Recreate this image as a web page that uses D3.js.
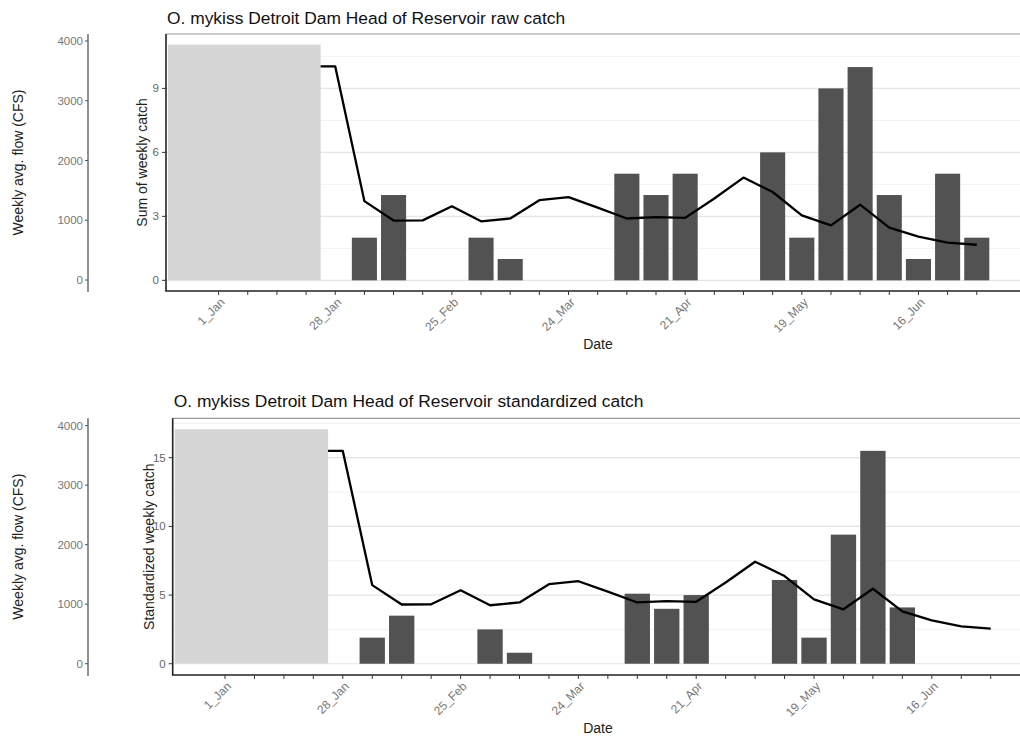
<!DOCTYPE html>
<html>
<head>
<meta charset="utf-8">
<script src="https://cdn.jsdelivr.net/npm/d3@7.9.0/dist/d3.min.js"></script>
<style>
  body { margin: 0; background: #fff; }
  svg { display: block; font-family: "Liberation Sans", Arial, sans-serif; }
</style>
</head>
<body>
<svg id="chart" width="1020" height="738"></svg>
<script>
// --- DATA ---
// weeks are numbered from 0 (1_Jan); a label every 4 weeks
const dateLabels = ["1_Jan", "28_Jan", "25_Feb", "24_Mar", "21_Apr", "19_May", "16_Jun"];
const weekCount = 27;

const rawWeeks = [5, 6, 9, 10, 14, 15, 16, 19, 20, 21, 22, 23, 24, 25, 26];
const rawCatch = [2, 4, 2, 1, 5, 4, 5, 6, 2, 9, 10, 4, 1, 5, 2];

const stdWeeks = [5, 6, 9, 10, 14, 15, 16, 19, 20, 21, 22, 23];
const stdCatch = [1.9, 3.5, 2.5, 0.8, 5.1, 4.0, 5.0, 6.1, 1.9, 9.4, 15.5, 4.1];

const flowWeeks = [3, 4, 5, 6, 7, 8, 9, 10, 11, 12, 13, 14, 15, 16, 17, 18, 19, 20, 21, 22, 23, 24, 25, 26];
const flowCfs = [3575, 3575, 1320, 995, 998, 1233, 982, 1030, 1336, 1386, 1211, 1029, 1051, 1040,
                 1364, 1714, 1473, 1081, 914, 1260, 878, 727, 626, 590];

// grey block = weeks not sampled (in flow units)
const noSampleEnd = 3.5;
const noSampleTop = 3940;

const flowTicks = [0, 1000, 2000, 3000, 4000];

const svg = d3.select("#chart");

function drawPanel(p) {
  const g = svg.append("g");
  const right = 1020;

  const x = d3.scaleLinear().domain([0, weekCount - 1])
    .range([p.x0, p.x0 + (weekCount - 1) * p.step]);
  const yCatch = d3.scaleLinear().domain(p.catchDomain).range([p.bottom, p.top]);
  const yFlow = d3.scaleLinear().domain(p.flowDomain).range([p.bottom, p.top]);
  const bw = p.step * 0.86;

  // gridlines (minor then major)
  g.selectAll(".minor").data(p.minorTicks).join("line")
    .attr("x1", p.left).attr("x2", right)
    .attr("y1", d => yCatch(d)).attr("y2", d => yCatch(d))
    .attr("stroke", "#efefef").attr("stroke-width", 0.9);
  g.selectAll(".major").data(p.catchTicks).join("line")
    .attr("x1", p.left).attr("x2", right)
    .attr("y1", d => yCatch(d)).attr("y2", d => yCatch(d))
    .attr("stroke", "#e4e4e4").attr("stroke-width", 1.2);

  // bars
  g.selectAll(".bar").data(p.weeks).join("rect")
    .attr("x", d => x(d) - bw / 2)
    .attr("width", bw)
    .attr("y", (d, i) => yCatch(p.values[i]))
    .attr("height", (d, i) => yCatch(0) - yCatch(p.values[i]))
    .attr("fill", "#525252");

  // flow line
  const line = d3.line()
    .x((d, i) => x(flowWeeks[i]))
    .y(d => yFlow(d));
  g.append("path").datum(flowCfs)
    .attr("d", line)
    .attr("fill", "none")
    .attr("stroke", "#000")
    .attr("stroke-width", 2.3)
    .attr("stroke-linejoin", "round");

  // grey no-sampling block
  g.append("rect")
    .attr("x", p.left + 2)
    .attr("width", x(noSampleEnd) - p.left - 2)
    .attr("y", yFlow(noSampleTop))
    .attr("height", yFlow(0) - yFlow(noSampleTop))
    .attr("fill", "#d6d6d6");

  // frame
  g.append("line").attr("x1", p.left).attr("x2", right)
    .attr("y1", p.top).attr("y2", p.top)
    .attr("stroke", "#999").attr("stroke-width", 1.2);
  g.append("line").attr("x1", p.left).attr("x2", p.left)
    .attr("y1", p.top).attr("y2", p.bottom)
    .attr("stroke", "#222").attr("stroke-width", 1.6);
  g.append("line").attr("x1", p.left - 0.8).attr("x2", right)
    .attr("y1", p.bottom).attr("y2", p.bottom)
    .attr("stroke", "#222").attr("stroke-width", 1.6);

  // catch axis ticks + labels
  const ct = g.selectAll(".ct").data(p.catchTicks).join("g")
    .attr("transform", d => `translate(${p.left},${yCatch(d)})`);
  ct.append("line").attr("x1", -4).attr("x2", 0).attr("stroke", "#333").attr("stroke-width", 1);
  ct.append("text").attr("x", -7).attr("dy", "0.35em")
    .attr("text-anchor", "end").attr("font-size", 11.5).attr("fill", "#666")
    .text(d => d);

  // x ticks
  g.selectAll(".xt").data(d3.range(weekCount)).join("line")
    .attr("x1", d => x(d)).attr("x2", d => x(d))
    .attr("y1", p.bottom).attr("y2", p.bottom + 4)
    .attr("stroke", "#333").attr("stroke-width", 1);
  g.selectAll(".xl").data(dateLabels).join("text")
    .attr("transform", (d, i) => `translate(${x(i * 4) + 4},${p.bottom + 9}) rotate(-45)`)
    .attr("text-anchor", "end").attr("dy", "0.35em")
    .attr("font-size", 12).attr("fill", "#777")
    .text(d => d);

  // flow axis (detached, far left)
  const fx = 88;
  g.append("line").attr("x1", fx).attr("x2", fx)
    .attr("y1", p.top).attr("y2", p.bottom + 1)
    .attr("stroke", "#555").attr("stroke-width", 1.3);
  const ft = g.selectAll(".ft").data(flowTicks).join("g")
    .attr("transform", d => `translate(${fx},${yFlow(d)})`);
  ft.append("line").attr("x1", -3).attr("x2", 0).attr("stroke", "#555").attr("stroke-width", 1);
  ft.append("text").attr("x", -5).attr("dy", "0.35em")
    .attr("text-anchor", "end").attr("font-size", 11.5).attr("fill", "#777")
    .text(d => d);

  const mid = (p.top + p.bottom) / 2;
  g.append("text")
    .attr("transform", `translate(23,${mid}) rotate(-90)`)
    .attr("text-anchor", "middle").attr("font-size", 14).attr("fill", "#222")
    .text("Weekly avg. flow (CFS)");
  g.append("text")
    .attr("transform", `translate(${p.left - 19},${mid}) rotate(-90)`)
    .attr("text-anchor", "middle").attr("font-size", 14).attr("fill", "#222")
    .text(p.ylab);

  // title and x label
  g.append("text").attr("x", p.left + 1).attr("y", p.titleY)
    .attr("font-size", 17.4).attr("fill", "#111")
    .text(p.title);
  g.append("text").attr("x", 598).attr("y", p.dateY)
    .attr("text-anchor", "middle").attr("font-size", 14).attr("fill", "#222")
    .text("Date");
}

drawPanel({
  title: "O. mykiss Detroit Dam Head of Reservoir raw catch",
  ylab: "Sum of weekly catch",
  weeks: rawWeeks, values: rawCatch,
  left: 166, top: 34, bottom: 291, x0: 218.6, step: 29.16,
  catchDomain: [-0.5, 11.55], flowDomain: [-184, 4117],
  catchTicks: [0, 3, 6, 9], minorTicks: [1.5, 4.5, 7.5, 10.5],
  titleY: 24, dateY: 349
});

drawPanel({
  title: "O. mykiss Detroit Dam Head of Reservoir standardized catch",
  ylab: "Standardized weekly catch",
  weeks: stdWeeks, values: stdCatch,
  left: 172.7, top: 418.3, bottom: 675, x0: 225, step: 29.45,
  catchDomain: [-0.82, 17.87], flowDomain: [-190, 4124],
  catchTicks: [0, 5, 10, 15], minorTicks: [2.5, 7.5, 12.5, 17.5],
  titleY: 407, dateY: 733
});
</script>
</body>
</html>
